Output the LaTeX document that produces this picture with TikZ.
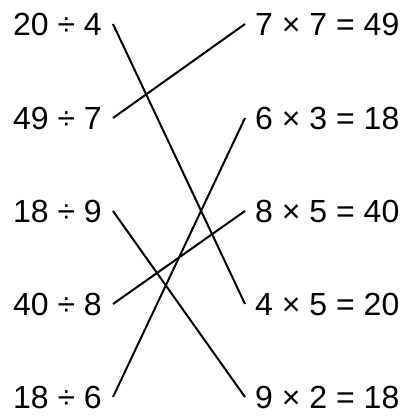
\documentclass[tikz,border=0pt]{standalone}
\usepackage{fontspec}
\setmainfont{Liberation Sans}
\usetikzlibrary{positioning}
\tikzset{
  % uttryck
  lhs/.style={anchor=east,inner xsep=11pt,inner ysep=0pt,text height=23pt,
              text depth=0pt,font=\fontsize{32}{38}\selectfont},
  rhs/.style={anchor=west,inner xsep=10pt,inner ysep=0pt,text height=23pt,
              text depth=0pt,font=\fontsize{32}{38}\selectfont},
  link/.style={draw=black,line width=2pt},
}
\begin{document}
\begin{tikzpicture}[x=1pt,y=-1pt]
  \useasboundingbox (0,0) rectangle (406,416);
  \node[lhs] (a) at (113,24) {20 ÷ 4};    \node[rhs] (p) at (245,24) {7 × 7 = 49};
  \node[lhs] (b) at (113,118) {49 ÷ 7};   \node[rhs] (q) at (245,118) {6 × 3 = 18};
  \node[lhs] (c) at (113,211) {18 ÷ 9};   \node[rhs] (r) at (245,211) {8 × 5 = 40};
  \node[lhs] (d) at (113,304) {40 ÷ 8};   \node[rhs] (s) at (245,304) {4 × 5 = 20};
  \node[lhs] (e) at (113,397) {18 ÷ 6};   \node[rhs] (t) at (245,397) {9 × 2 = 18};
  \draw[link] (a.east) -- (s.west);  \draw[link] (b.east) -- (p.west);
  \draw[link] (c.east) -- (t.west);  \draw[link] (d.east) -- (r.west);
  \draw[link] (e.east) -- (q.west);
\end{tikzpicture}
\end{document}
